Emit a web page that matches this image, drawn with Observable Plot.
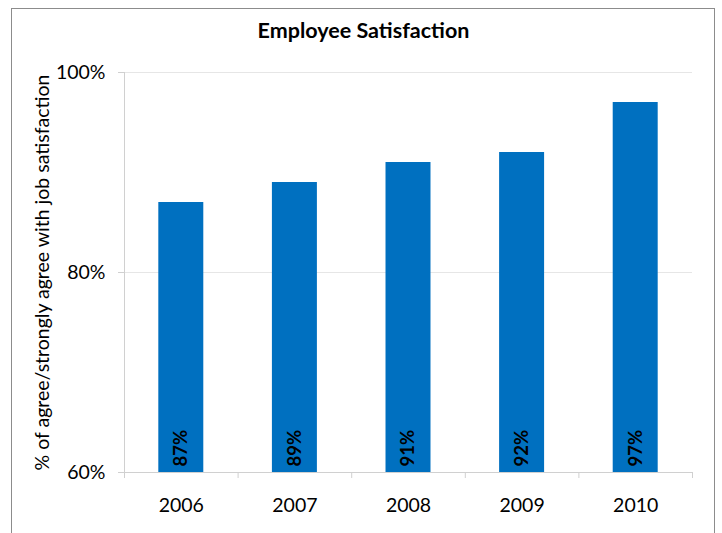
<!DOCTYPE html>
<html>
<head>
<meta charset="utf-8">
<script src="https://cdn.jsdelivr.net/npm/d3@7"></script>
<script src="https://cdn.jsdelivr.net/npm/@observablehq/plot@0.6"></script>
<style>
  html, body { margin: 0; padding: 0; background: #fff; overflow: hidden; }
  #wrap { position: relative; width: 722px; height: 533px; font-family: Lato, "Open Sans", sans-serif; }
  #frame { position: absolute; left: 11px; top: 8px; width: 704px; height: 600px; border: 1px solid #8c8c8c; box-sizing: border-box; }
  #title { position: absolute; left: 11px; top: 8px; width: 705px; height: 44px; line-height: 44px; text-align: center; font-weight: bold; font-size: 21.5px; color: #000; }
  #chart { position: absolute; left: 0; top: 52px; }
  #chart svg { overflow: visible; }
</style>
</head>
<body>
<div id="wrap">
  <div id="frame"></div>
  <div id="title">Employee Satisfaction</div>
  <div id="chart"></div>
</div>
<script>
const years = ["2006", "2007", "2008", "2009", "2010"];
const values = [0.87, 0.89, 0.91, 0.92, 0.97];
const yTicks = [0.6, 0.8, 1.0];
const yLabel = "% of agree/strongly agree with job satisfaction";

const data = years.map((y, i) => ({year: y, i, value: values[i]}));
const barHalf = 0.198;

const chart = Plot.plot({
  width: 722,
  height: 481,
  marginLeft: 124,
  marginRight: 30,
  marginTop: 20,
  marginBottom: 61,
  style: {fontFamily: "Lato, 'Open Sans', sans-serif", fontSize: "19.5px", color: "#000", background: "transparent"},
  x: {type: "linear", domain: [0, years.length], axis: null},
  y: {domain: [0.6, 1.0], axis: null},
  marks: [
    Plot.ruleY([0.8, 1.0], {stroke: "#e6e6e6", strokeWidth: 1}),
    Plot.rectY(data, {x1: d => d.i + 0.5 - barHalf, x2: d => d.i + 0.5 + barHalf, y1: 0.6, y2: "value", fill: "#0070C0"}),
    Plot.ruleY([0.6], {stroke: "#d0d0d0", strokeWidth: 1}),
    Plot.ruleX([0], {y1: 0.6, y2: 1.0, stroke: "#d0d0d0", strokeWidth: 1}),
    Plot.axisY({ticks: yTicks, tickFormat: d3.format(".0%"), tickSize: 6, tickPadding: 13, stroke: "#d0d0d0", fontSize: 19.5, label: null}),
    Plot.axisX({ticks: d3.range(years.length + 1), tickFormat: () => "", tickSize: 6, stroke: "#d0d0d0", label: null}),
    Plot.axisX({ticks: d3.range(years.length).map(i => i + 0.5), tickFormat: d => years[Math.floor(d)], tickSize: 0, tickPadding: 26, fontSize: 19.5, label: null}),
    Plot.text([yLabel], {frameAnchor: "left", textAnchor: "middle", rotate: -90, dx: -82, fontSize: 19.5, fill: "#000"}),
    Plot.text(data, {x: d => d.i + 0.5, y: 0.6, text: d => d3.format(".0%")(d.value), rotate: -90, textAnchor: "start", dy: -6, dx: 0, fontWeight: "bold", fontSize: 18.5, fill: "#000"})
  ]
});
document.getElementById("chart").appendChild(chart);
</script>
</body>
</html>
